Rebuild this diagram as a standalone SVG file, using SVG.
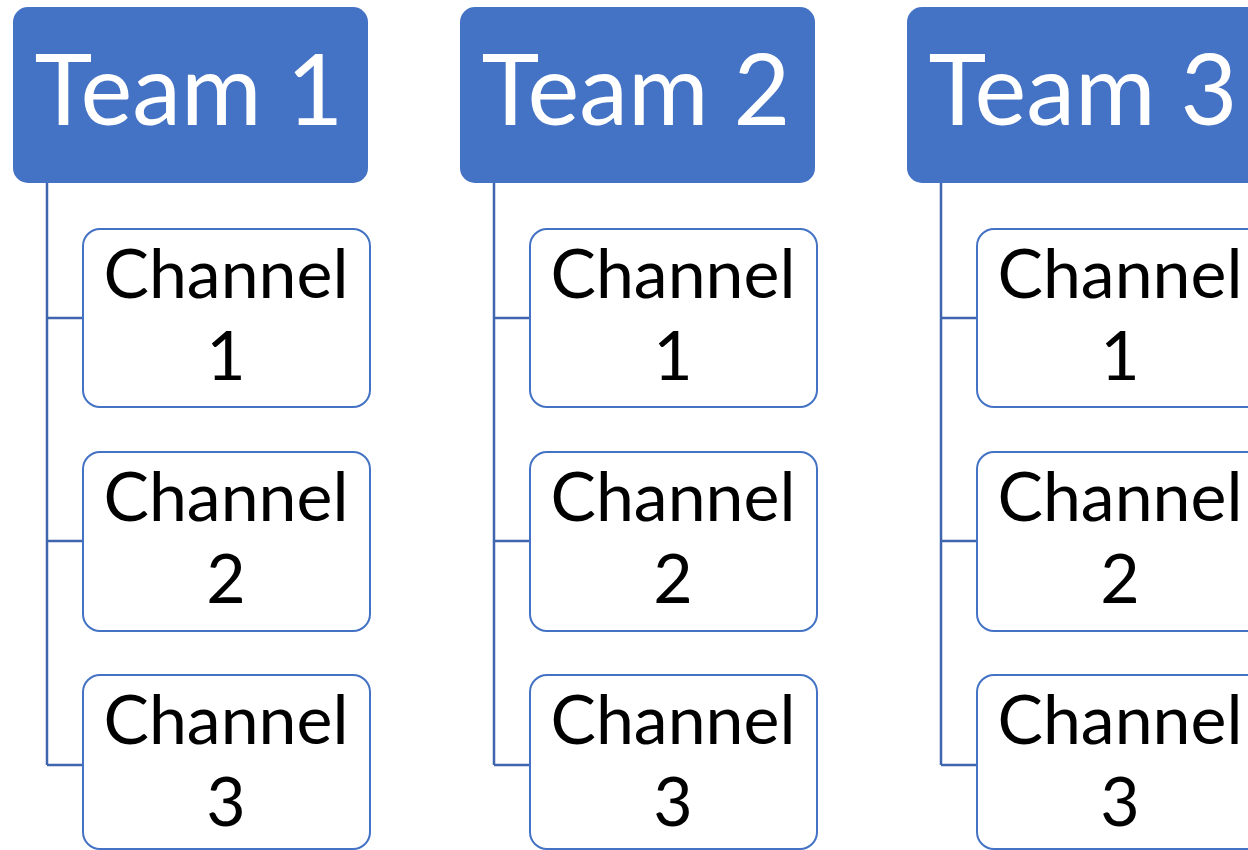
<svg xmlns="http://www.w3.org/2000/svg" width="1248" height="850" viewBox="0 0 1248 850">
<style>
.team{fill:#4472C4;}
.teamtxt{font-family:Lato,"Open Sans",sans-serif;font-size:98px;fill:#fff;text-anchor:middle;}
.ch{fill:#fff;stroke:#4472C4;stroke-width:2;}
.chtxt{font-family:Lato,"Open Sans",sans-serif;font-size:68px;fill:#000;text-anchor:middle;}
.conn{fill:none;stroke:#3E65AD;stroke-width:2.5;}
</style>
<rect width="1248" height="850" fill="#fff"/>
<g id="connectors">
<path class="conn" d="M47,183 V765 M47,318 H83 M47,541 H83 M47,765 H83"/>
<path class="conn" d="M494,183 V765 M494,318 H530 M494,541 H530 M494,765 H530"/>
<path class="conn" d="M941,183 V765 M941,318 H977 M941,541 H977 M941,765 H977"/>
</g>
<g id="team1"><rect class="team" x="13" y="7" width="355" height="176" rx="15"/><text class="teamtxt" x="189" y="125">Team 1</text></g>
<g id="team2"><rect class="team" x="460" y="7" width="355" height="176" rx="15"/><text class="teamtxt" x="636" y="125">Team 2</text></g>
<g id="team3"><rect class="team" x="907" y="7" width="355" height="176" rx="15"/><text class="teamtxt" x="1083" y="125">Team 3</text></g>
<g id="t1c1"><rect class="ch" x="83" y="229" width="287" height="178" rx="17"/><text class="chtxt" x="226" y="298">Channel</text><text class="chtxt" x="226" y="380">1</text></g>
<g id="t1c2"><rect class="ch" x="83" y="452" width="287" height="179" rx="17"/><text class="chtxt" x="226" y="521">Channel</text><text class="chtxt" x="226" y="603">2</text></g>
<g id="t1c3"><rect class="ch" x="83" y="675" width="287" height="174" rx="17"/><text class="chtxt" x="226" y="744">Channel</text><text class="chtxt" x="226" y="826">3</text></g>
<g id="t2c1"><rect class="ch" x="530" y="229" width="287" height="178" rx="17"/><text class="chtxt" x="673" y="298">Channel</text><text class="chtxt" x="673" y="380">1</text></g>
<g id="t2c2"><rect class="ch" x="530" y="452" width="287" height="179" rx="17"/><text class="chtxt" x="673" y="521">Channel</text><text class="chtxt" x="673" y="603">2</text></g>
<g id="t2c3"><rect class="ch" x="530" y="675" width="287" height="174" rx="17"/><text class="chtxt" x="673" y="744">Channel</text><text class="chtxt" x="673" y="826">3</text></g>
<g id="t3c1"><rect class="ch" x="977" y="229" width="287" height="178" rx="17"/><text class="chtxt" x="1120" y="298">Channel</text><text class="chtxt" x="1120" y="380">1</text></g>
<g id="t3c2"><rect class="ch" x="977" y="452" width="287" height="179" rx="17"/><text class="chtxt" x="1120" y="521">Channel</text><text class="chtxt" x="1120" y="603">2</text></g>
<g id="t3c3"><rect class="ch" x="977" y="675" width="287" height="174" rx="17"/><text class="chtxt" x="1120" y="744">Channel</text><text class="chtxt" x="1120" y="826">3</text></g>
</svg>
